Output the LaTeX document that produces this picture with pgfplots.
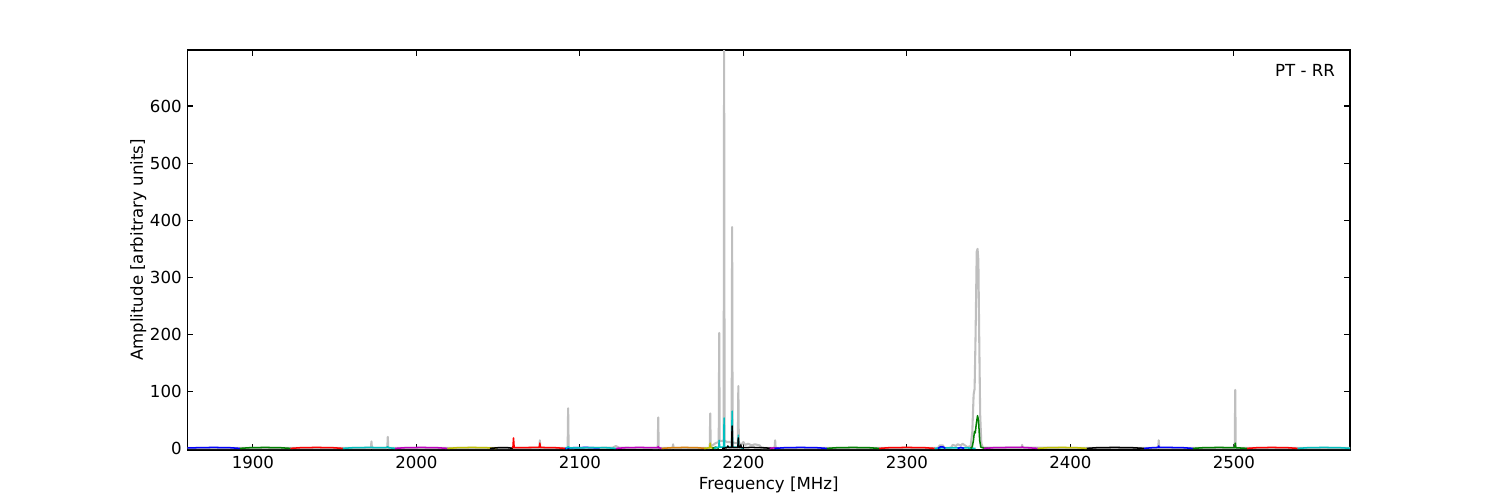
\documentclass[border=0pt]{standalone}
\usepackage{pgfplots}
\pgfplotsset{compat=1.18}
\usepackage{fontspec}
\setmainfont{DejaVu Sans}
\definecolor{mb}{rgb}{0,0,1}
\definecolor{mg}{rgb}{0,0.5,0}
\definecolor{mr}{rgb}{1,0,0}
\definecolor{mc}{rgb}{0,0.75,0.75}
\definecolor{mm}{rgb}{0.75,0,0.75}
\definecolor{my}{rgb}{0.75,0.75,0}
\definecolor{mk}{rgb}{0,0,0}
\definecolor{mo}{rgb}{0.85,0.5,0.05}
\definecolor{mgray}{rgb}{0.75,0.75,0.75}
\begin{document}
\fontsize{12pt}{14pt}\selectfont
\begin{tikzpicture}
\useasboundingbox (0,0) rectangle (15in,5in);
\begin{axis}[
  at={(1.875in,0.5in)}, anchor=south west,
  width=11.625in, height=4in, scale only axis,
  xmin=1860, xmax=2571, ymin=-2, ymax=698,
  xtick={1900,2000,...,2500}, ytick={0,100,...,600},
  tick align=inside, major tick length=4pt,
  axis line style={line width=0.8pt},
  every tick/.style={black, line width=0.8pt},
  /pgf/number format/assume math mode=true,
  /pgf/number format/1000 sep={},
  tick label style={font=\fontsize{12pt}{14pt}\selectfont},
  label style={font=\fontsize{12pt}{14pt}\selectfont},
  xlabel={Frequency [MHz]}, ylabel={Amplitude [arbitrary units]},
  xlabel style={yshift=2pt},
  ylabel style={yshift=-5.5pt},
  every axis plot/.append style={mark=none, line width=1.1pt, line join=round},
  clip=true,
]
% gray full spectrum
\addplot[color=mgray, line width=1.5pt, line join=round] coordinates {
(1860,1.5) (1972.2,1.5) (1972.5,13) (1972.8,1.5) (1982.2,1.5) (1982.5,21) (1982.8,1.5)
(2075.2,1.5) (2075.5,15) (2075.8,1.5) (2092.5,1.5) (2092.8,71) (2093.1,1.5)
(2120,2) (2122,5) (2124,2) (2147.6,1.5) (2147.9,55) (2148.2,1.5)
(2156.7,1.5) (2157,8) (2157.3,1.5) (2179.4,1.5) (2179.7,62) (2180.0,4)
(2182,8) (2183,10) (2184.9,12) (2185.2,203) (2185.5,14) (2187.9,14) (2188.2,720) (2188.5,14)
(2190,12) (2192.8,12) (2193.1,388) (2193.4,12) (2195,10) (2196.6,10) (2196.9,110) (2197.2,10)
(2199,8) (2200,12) (2201,7) (2203,9) (2205,6) (2207,8) (2210,6) (2211,1.5)
(2219.1,1.5) (2219.4,15) (2219.7,1.5) (2319,1.5) (2320,6) (2322,6) (2323,1.5)
(2327,2) (2328,7) (2330,5) (2331,8) (2333,6) (2334,9) (2336,5) (2337,3)
(2339,5) (2340,30) (2340.8,95) (2341.4,105) (2342,200) (2342.7,345) (2343.2,350) (2343.7,330)
(2344.2,200) (2344.8,60) (2345.5,10) (2346.5,2) (2370.2,2) (2370.5,7) (2370.8,2)
(2453.7,1.5) (2454,15) (2454.3,1.5) (2500.5,1.5) (2500.8,103) (2501.1,1.5) (2571,1.5)
};
% coloured channels
\addplot[color=mb] coordinates {(1860,1.5) (1866,2) (1876,2.5) (1886,2) (1892,0.8)};
\addplot[color=mg] coordinates {(1892,0.8) (1898,2) (1907.5,2.5) (1917,2) (1923,0.8)};
\addplot[color=mr] coordinates {(1923,0.8) (1929,2) (1939,2.5) (1949,2) (1955,0.8)};
\addplot[color=mc] coordinates {(1955,0.8) (1961,2) (1971,2.5) (1981,2) (1982.5,3.5) (1983,2) (1987,0.8)};
\addplot[color=mm] coordinates {(1987,0.8) (1993,2) (2003,2.5) (2013,2) (2019,0.8)};
\addplot[color=my] coordinates {(2019,0.8) (2025,2) (2034,2.5) (2043,2) (2049,0.8)};
\addplot[color=mk] coordinates {(2045,0.8) (2050,2) (2055,2.3) (2059,1)};
\addplot[color=mr] coordinates {(2059,1) (2059.4,19) (2059.8,2) (2066,2.3) (2075.2,2.5) (2075.5,10) (2075.8,2.5) (2085,2) (2091,0.8)};
\addplot[color=mb] coordinates {(2091,0.8) (2096,2) (2104,2.5) (2112,1.5)};
\addplot[color=mc] coordinates {(2091.5,0.6) (2092.8,3.5) (2094,1.5) (2104,2) (2116,2) (2122,0.8)};
\addplot[color=mm] coordinates {(2122,0.8) (2128,2) (2136,2.5) (2147.6,2) (2147.9,4) (2148.2,2) (2150,0.8)};
\addplot[color=mo] coordinates {(2150,0.8) (2156,2) (2164,2.5) (2172,2) (2177,0.8)};
\addplot[color=my] coordinates {(2176,0.8) (2179.4,2) (2179.7,10) (2180.1,2) (2183,0.8)};
\addplot[color=mg] coordinates {(2181,1) (2183,3) (2185,1)};
\addplot[color=mc] coordinates {(2182,1) (2184.9,3) (2185.2,15) (2185.5,3) (2187.9,3) (2188.2,54) (2188.5,3)
  (2192.8,3) (2193.1,66) (2193.4,3) (2196.6,3) (2196.9,24) (2197.2,3) (2200,1)};
\addplot[color=mk] coordinates {(2187,0.8) (2190,2) (2190.5,5) (2191,2) (2192.8,2) (2193.1,40) (2193.4,2)
  (2196.6,2) (2196.9,19) (2197.2,2) (2198,2) (2198.4,7) (2198.8,2) (2205,2.5) (2212,2) (2218,0.8)};
\addplot[color=mm] coordinates {(2216,0.8) (2219,1.8) (2222,1)};
\addplot[color=mb] coordinates {(2219,0.8) (2225,2) (2235,2.5) (2245,2) (2251,0.8)};
\addplot[color=mg] coordinates {(2251,0.8) (2257,2) (2267,2.5) (2277,2) (2283,0.8)};
\addplot[color=mr] coordinates {(2283,0.8) (2289,2) (2300,2.5) (2311,2) (2317,0.8)};
\addplot[color=mc] coordinates {(2317,0.8) (2320,1.5) (2330,1.8) (2338,1.5) (2342,0.8)};
\addplot[color=mb] coordinates {(2319,0.8) (2320.5,3.5) (2322,3.5) (2323.5,0.8)};
\addplot[color=mb] coordinates {(2331,0.8) (2333,2.5) (2335,0.8)};
\addplot[color=mg] coordinates {(2339,0.8) (2340,4) (2340.7,15) (2341.3,30) (2341.8,28) (2342.5,45) (2343.2,58)
  (2343.8,50) (2344.5,15) (2345.2,3) (2347,1.5) (2351,0.8)};
\addplot[color=mm] coordinates {(2347,0.8) (2353,2) (2363,2.5) (2370.3,2.5) (2370.5,3.5) (2370.7,2.5) (2374,2) (2380,0.8)};
\addplot[color=my] coordinates {(2380,0.8) (2386,2) (2395,2.5) (2404,2) (2410,0.8)};
\addplot[color=mk] coordinates {(2410,0.8) (2416,2) (2427,2.5) (2438,2) (2445,0.8)};
\addplot[color=mb] coordinates {(2445,0.8) (2450,2) (2453.7,2.5) (2454,5) (2454.3,2.5) (2460,2.5) (2469,2) (2475,0.8)};
\addplot[color=mg] coordinates {(2475,0.8) (2481,2) (2491,2.5) (2500.5,2) (2500.8,10) (2501.1,2) (2508,0.8)};
\addplot[color=mr] coordinates {(2508,0.8) (2514,2) (2523,2.5) (2533,2) (2539,0.8)};
\addplot[color=mc] coordinates {(2539,0.8) (2545,2) (2555,2.5) (2565,2) (2571,1)};
\node[anchor=east, font=\fontsize{12pt}{14pt}\selectfont] at (rel axis cs:0.992,0.95) {PT - RR};
\end{axis}
\end{tikzpicture}
\end{document}
